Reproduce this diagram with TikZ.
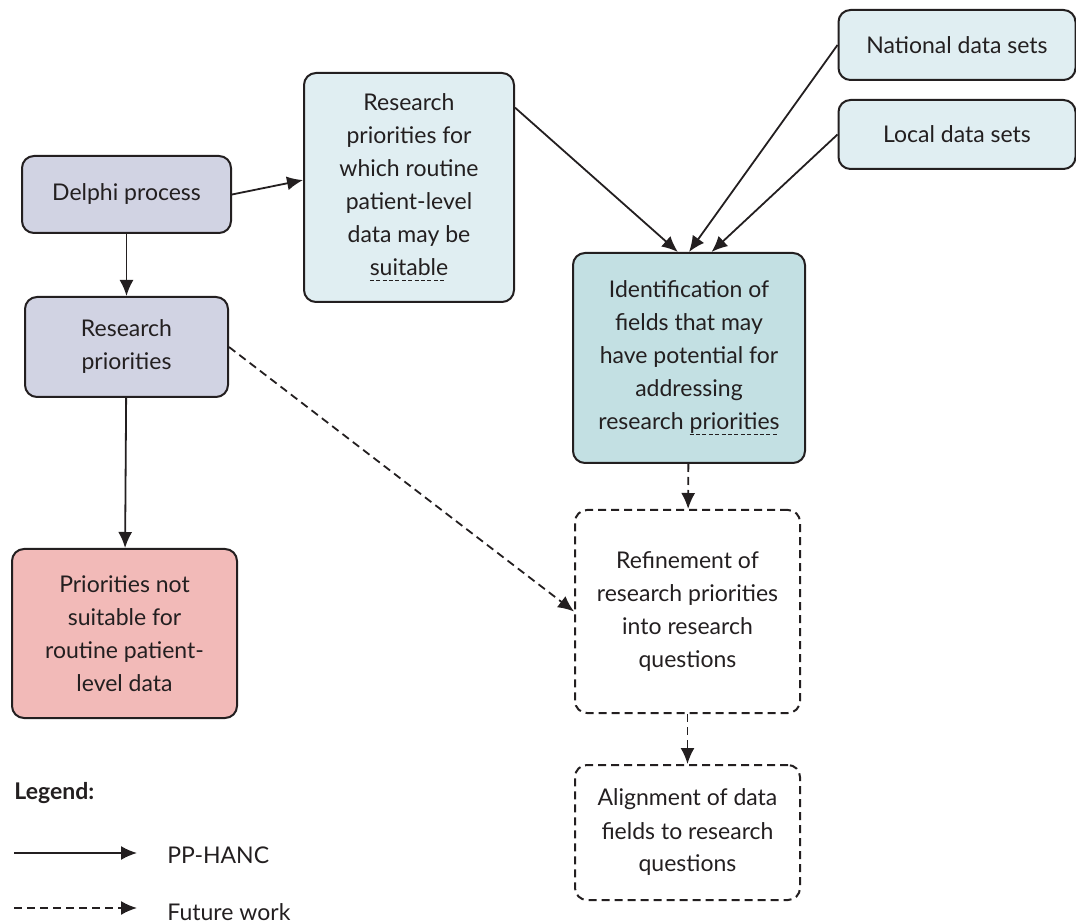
\documentclass[tikz,border=0pt]{standalone}
\usepackage{fontspec}
\setmainfont{Lato}
\usetikzlibrary{arrows.meta}
\definecolor{lav}{HTML}{D1D3E3}
\definecolor{pale}{HTML}{E0EEF2}
\definecolor{teal}{HTML}{C3E0E3}
\definecolor{rose}{HTML}{F2BAB8}
\definecolor{ink}{HTML}{231F20}
% dashed underline
\newcommand\squig[1]{\setbox0=\hbox{#1}\leavevmode\rlap{\copy0}\raisebox{-2.6pt}{\hbox to \wd0{\leaders\hbox{\vrule width 2pt height 0.6pt\kern 1.2pt}\hfill}}}
\begin{document}
\begin{tikzpicture}[x=0.5pt,y=-0.5pt,
  box/.style={draw=ink, line width=1pt, rounded corners=6pt, align=center, inner sep=0pt,
    text=ink, font=\fontsize{11.5}{16.5}\selectfont},
  future/.style={box, dash pattern=on 4pt off 2.5pt},
  arr/.style={draw=ink, line width=0.9pt, -{Latex[length=8pt,width=7pt]}},
  darr/.style={arr, dash pattern=on 4pt off 2.5pt}]
\useasboundingbox (0,0) rectangle (1076,924);

\node[box, fill=lav, minimum width=104.5pt, minimum height=38.5pt] (delphi) at (126.5,194.5) {Delphi process};
\node[box, fill=lav, minimum width=101.5pt, minimum height=50pt] (respri) at (126.5,347) {Research\\priorities};
\node[box, fill=rose, minimum width=112.5pt, minimum height=84.5pt] (notsuit) at (124.5,633.5) {Priorities not\\suitable for\\routine patient-\\level data};
\node[box, fill=pale, minimum width=105pt, minimum height=114.5pt] (resfor) at (409,187.5) {Research\\priorities for\\which routine\\patient-level\\data may be\\\squig{suitable}};
\node[box, fill=pale, minimum width=118.5pt, minimum height=35pt] (national) at (957,45) {National data sets};
\node[box, fill=pale, minimum width=118.5pt, minimum height=34.5pt] (local) at (957,134.5) {Local data sets};
\node[box, fill=teal, minimum width=116pt, minimum height=105pt] (ident) at (689,358) {Identification of\\fields that may\\have potential for\\addressing\\research \squig{priorities}};
\node[future, minimum width=112.5pt, minimum height=101.5pt] (refine) at (687.5,611.5) {Refinement of\\research priorities\\into research\\questions};
\node[future, minimum width=112.5pt, minimum height=67.5pt] (align) at (687.5,832.5) {Alignment of data\\fields to research\\questions};

\path[arr] (delphi.east) -- (resfor.176);
\path[arr] (delphi) -- (respri);
\path[arr] (respri) -- (notsuit);
\path[arr] (resfor.37) -- (ident.96);
\path[arr] (national.west) -- (ident.north);
\path[arr] (local.west) -- (ident.78);
\path[darr] (ident) -- (refine);
\path[darr] (refine) -- (align);
\path[darr] (respri.east) -- (refine.west);

% legend
\node[anchor=west, inner sep=0pt, text=ink, font=\fontsize{11.5}{14}\selectfont\bfseries] (legend) at (14,793) {Legend:};
\coordinate (solida) at (14,853);
\coordinate (solidb) at (137,853);
\coordinate (dasha) at (14,908);
\coordinate (dashb) at (137,908);
\path[arr] (solida) -- (solidb);
\path[darr] (dasha) -- (dashb);
\node[anchor=west, inner sep=0pt, text=ink, font=\fontsize{11.5}{14}\selectfont] (pphanc) at (167,855) {PP-HANC};
\node[anchor=west, inner sep=0pt, text=ink, font=\fontsize{11.5}{14}\selectfont] (futwork) at (167,912) {Future work};
\end{tikzpicture}
\end{document}
